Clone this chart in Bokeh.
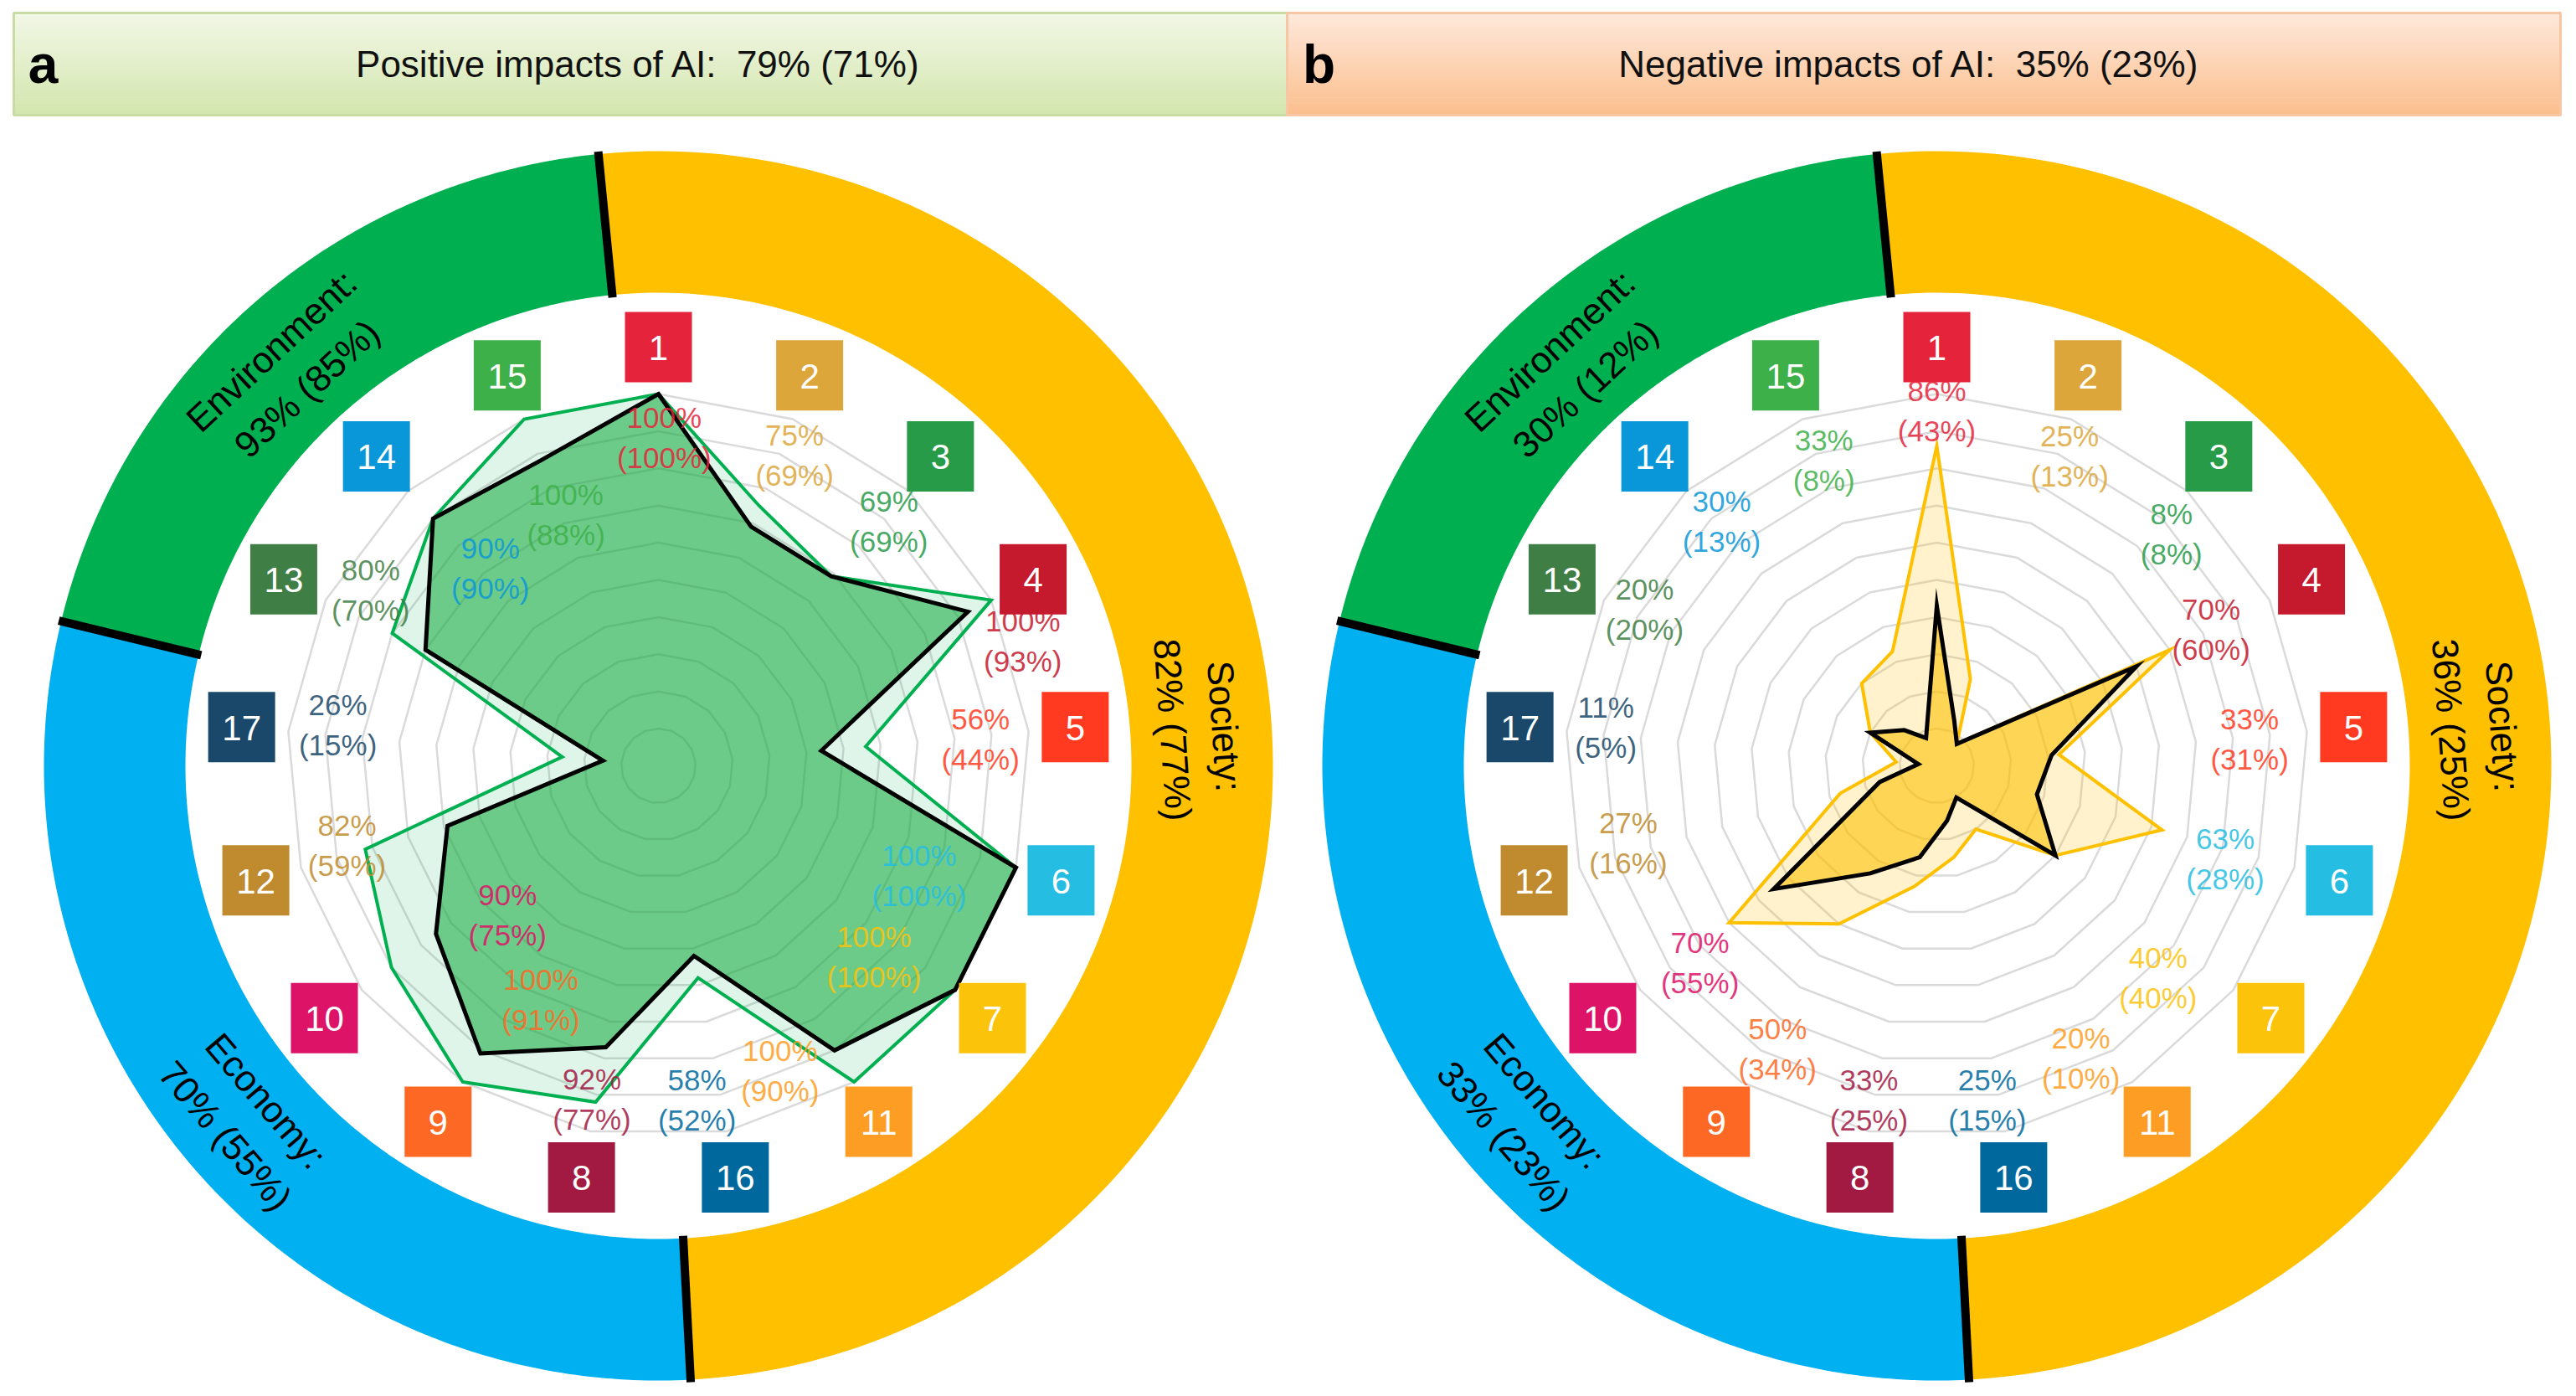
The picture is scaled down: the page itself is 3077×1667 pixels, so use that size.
import numpy as np
from bokeh.plotting import figure
from bokeh.models import Range1d
from bokeh.core.properties import value
from bokeh.embed import file_html
from bokeh.resources import INLINE

# ---------------- data ----------------
goals = ["1", "2", "3", "4", "5", "6", "7", "11", "16", "8", "9", "10", "12", "17", "13", "14", "15"]
goal_colors = ["#E5243B", "#DDA63A", "#279B48", "#C5192D", "#FF3A21", "#26BDE2", "#FCC30B",
               "#FD9D24", "#00689D", "#A21942", "#FD6925", "#DD1367", "#BF8B2E", "#19486A",
               "#3F7E44", "#0A97D9", "#3EB049"]
pos_all = [100, 75, 69, 100, 56, 100, 100, 100, 58, 92, 100, 90, 82, 26, 80, 90, 100]
pos_sig = [100, 69, 69, 93, 44, 100, 100, 90, 52, 77, 91, 75, 59, 15, 70, 90, 88]
neg_all = [86, 25, 8, 70, 33, 63, 40, 20, 25, 33, 50, 70, 27, 11, 20, 30, 33]
neg_sig = [43, 13, 8, 60, 31, 28, 40, 10, 15, 25, 34, 55, 16, 5, 20, 13, 8]
panel_letters = ["a", "b"]
titles = ["Positive impacts of AI:\u00a0 79% (71%)", "Negative impacts of AI:\u00a0 35% (23%)"]
dimensions = ["Society:", "Economy:", "Environment:"]
dim_pos = ["82% (77%)", "70% (55%)", "93% (85%)"]
dim_neg = ["36% (25%)", "33% (23%)", "30% (12%)"]

# ---------------- layout / style ----------------
W, H = 3068, 1656
OX, OY = 0, 0
CENTERS = [(786, 914), (2313, 914)]
R100 = 444
BOX_R = 500
RING_IN, RING_OUT = 565, 734
SECTOR_SPANS = [(354.4, 537.0), (177.0, 283.6), (283.6, 354.4)]
SECTOR_COLORS = ["#FFC000", "#00B0F0", "#00B050"]
DIVIDERS = [354.4, 177.0, 283.6]
DIM_ANGLE = [86.0, 229.5, 317.0]
label_r = [
    [392, 405, 401, 460, 386, 338, 344, 392, 402, 406, 312, 253, 384, 386, 403, 310, 320],
    [424, 403, 394, 366, 375, 362, 366, 389, 404, 407, 388, 368, 380, 398, 396, 389, 389],
]
label_nudge = [
    [1, 2.5, 1, 7.6, 0.6, 7, 4.5, 10, 4, 0.7, -5, -7.5, 1.5, 2, 5, 2, 1],
    [0, 2, 3, 0, 0.4, 2, 6.7, 5.5, 2, 0.9, -2.4, -2.7, 1.8, 1.3, 1.7, 1, 0.9],
]
HEADERS = [
    dict(x0=16, x1=1537, top="#f2f7e6", bot="#d3e6ae", border="#c9dca4"),
    dict(x0=1537, x1=3058, top="#fee8da", bot="#fbbf8e", border="#f7c6a4"),
]
HEAD_Y0, HEAD_Y1 = 15, 137
TITLE_X = [762, 2280]
LETTER_X = [51, 1575]
OUTER_LINE = ["#00B050", "#FFC000"]
OUTER_FILL = [("#00B050", 0.12), ("#FFC000", 0.20)]
INNER_FILL = [("#14AA3C", 0.56), ("#FFC000", 0.58)]
GRID_COLOR = "#dadada"
FONT = value("Liberation Sans")

n = len(goals)
step = 360.0 / n
spoke_ang = np.arange(n) * step


def pt(c, r, ang_deg):
    a = np.radians(ang_deg)
    return c[0] + np.asarray(r) * np.sin(a), c[1] - np.asarray(r) * np.cos(a)


def hex2rgb(h):
    h = h.lstrip("#")
    return np.array([int(h[i:i + 2], 16) for i in (0, 2, 4)], dtype=float)


p = figure(width=W, height=H, x_range=Range1d(OX, OX + W), y_range=Range1d(OY + H, OY),
           output_backend="svg", toolbar_location=None, min_border=0,
           x_axis_location=None, y_axis_location=None)
p.grid.visible = False
p.outline_line_color = None
p.background_fill_color = "white"

# ---------------- headers ----------------
for k, hd in enumerate(HEADERS):
    ns = 40
    ys = np.linspace(HEAD_Y0, HEAD_Y1, ns + 1)
    c0, c1 = hex2rgb(hd["top"]), hex2rgb(hd["bot"])
    cols = []
    for t in np.linspace(0, 1, ns):
        c = c0 + (c1 - c0) * t
        cols.append("#%02x%02x%02x" % tuple(int(round(v)) for v in c))
    p.quad(left=hd["x0"], right=hd["x1"], top=ys[:-1], bottom=ys[1:] + 0.6,
           fill_color=cols, line_color=None)
    p.quad(left=hd["x0"], right=hd["x1"], top=HEAD_Y0, bottom=HEAD_Y1,
           fill_color=None, line_color=hd["border"], line_width=3)
    ymid = (HEAD_Y0 + HEAD_Y1) / 2
    p.text(x=[LETTER_X[k]], y=[ymid], text=[panel_letters[k]], text_align="center",
           text_baseline="middle", text_font=FONT, text_font_size="64px",
           text_font_style="bold", text_color="black")
    p.text(x=[TITLE_X[k]], y=[ymid], text=[titles[k]], text_align="center",
           text_baseline="middle", text_font=FONT, text_font_size="44px", text_color="#111111")

# ---------------- panels ----------------
for k, c in enumerate(CENTERS):
    # outer ring sectors
    xs, ys = [], []
    for (a0, a1) in SECTOR_SPANS:
        aa = np.linspace(a0, a1, 160)
        ox, oy = pt(c, RING_OUT, aa)
        ix, iy = pt(c, RING_IN, aa[::-1])
        xs.append(np.concatenate([ox, ix]))
        ys.append(np.concatenate([oy, iy]))
    p.patches(xs=xs, ys=ys, fill_color=SECTOR_COLORS, line_color=None)
    d0x, d0y = pt(c, RING_IN - 3, np.array(DIVIDERS))
    d1x, d1y = pt(c, RING_OUT + 3, np.array(DIVIDERS))
    p.segment(x0=d0x, y0=d0y, x1=d1x, y1=d1y, line_color="black", line_width=10)

    # grid (concentric 17-gons)
    gx, gy = [], []
    ring_ang = np.append(spoke_ang, spoke_ang[0])
    for lev in range(1, 11):
        rx, ry = pt(c, R100 * lev / 10.0, ring_ang)
        gx.append(rx)
        gy.append(ry)
    p.multi_line(xs=gx, ys=gy, line_color=GRID_COLOR, line_width=2.5)

    # radar polygons
    v_all = np.array(pos_all if k == 0 else neg_all, dtype=float)
    v_sig = np.array(pos_sig if k == 0 else neg_sig, dtype=float)
    ax_, ay_ = pt(c, R100 * v_all / 100.0, spoke_ang)
    bx_, by_ = pt(c, R100 * v_sig / 100.0, spoke_ang)
    p.patch(x=ax_, y=ay_, fill_color=OUTER_FILL[k][0], fill_alpha=OUTER_FILL[k][1],
            line_color=None)
    p.patch(x=bx_, y=by_, fill_color=INNER_FILL[k][0], fill_alpha=INNER_FILL[k][1],
            line_color=None)
    p.patch(x=np.append(ax_, ax_[0]), y=np.append(ay_, ay_[0]), fill_color=None,
            line_color=OUTER_LINE[k], line_width=4, line_join="miter")
    p.patch(x=np.append(bx_, bx_[0]), y=np.append(by_, by_[0]), fill_color=None,
            line_color="black", line_width=5, line_join="miter")

    # goal boxes
    bxs, bys = pt(c, BOX_R, spoke_ang)
    p.quad(left=bxs - 40, right=bxs + 40, top=bys - 42, bottom=bys + 42,
           fill_color=goal_colors, line_color=None)
    p.text(x=bxs, y=bys + 1, text=goals, text_align="center", text_baseline="middle",
           text_font=FONT, text_font_size="42px", text_color="white")

    # value labels
    lx, ly = pt(c, np.array(label_r[k]), spoke_ang + np.array(label_nudge[k]))
    p.text(x=lx, y=ly - 24, text=["%d%%" % v for v in v_all], text_align="center",
           text_baseline="middle", text_font=FONT, text_font_size="35px",
           text_color=goal_colors, text_alpha=0.85)
    p.text(x=lx, y=ly + 24, text=["(%d%%)" % v for v in v_sig], text_align="center",
           text_baseline="middle", text_font=FONT, text_font_size="35px",
           text_color=goal_colors, text_alpha=0.85)

    # dimension labels in the ring
    vals = dim_pos if k == 0 else dim_neg
    for j, name in enumerate(dimensions):
        th = DIM_ANGLE[j]
        if j == 1:
            rot = th - 180.0
            r_name, r_val = 616, 680
        else:
            rot = th
            r_name, r_val = 678, 616
        nx, ny = pt(c, r_name, th)
        vx, vy = pt(c, r_val, th)
        ang = -np.radians(rot)
        p.text(x=[float(nx)], y=[float(ny)], text=[name], angle=ang, text_align="center",
               text_baseline="middle", text_font=FONT, text_font_size="44px", text_color="black")
        p.text(x=[float(vx)], y=[float(vy)], text=[vals[j]], angle=ang, text_align="center",
               text_baseline="middle", text_font=FONT, text_font_size="44px", text_color="black")

open("out.html", "w").write(file_html(p, INLINE))
